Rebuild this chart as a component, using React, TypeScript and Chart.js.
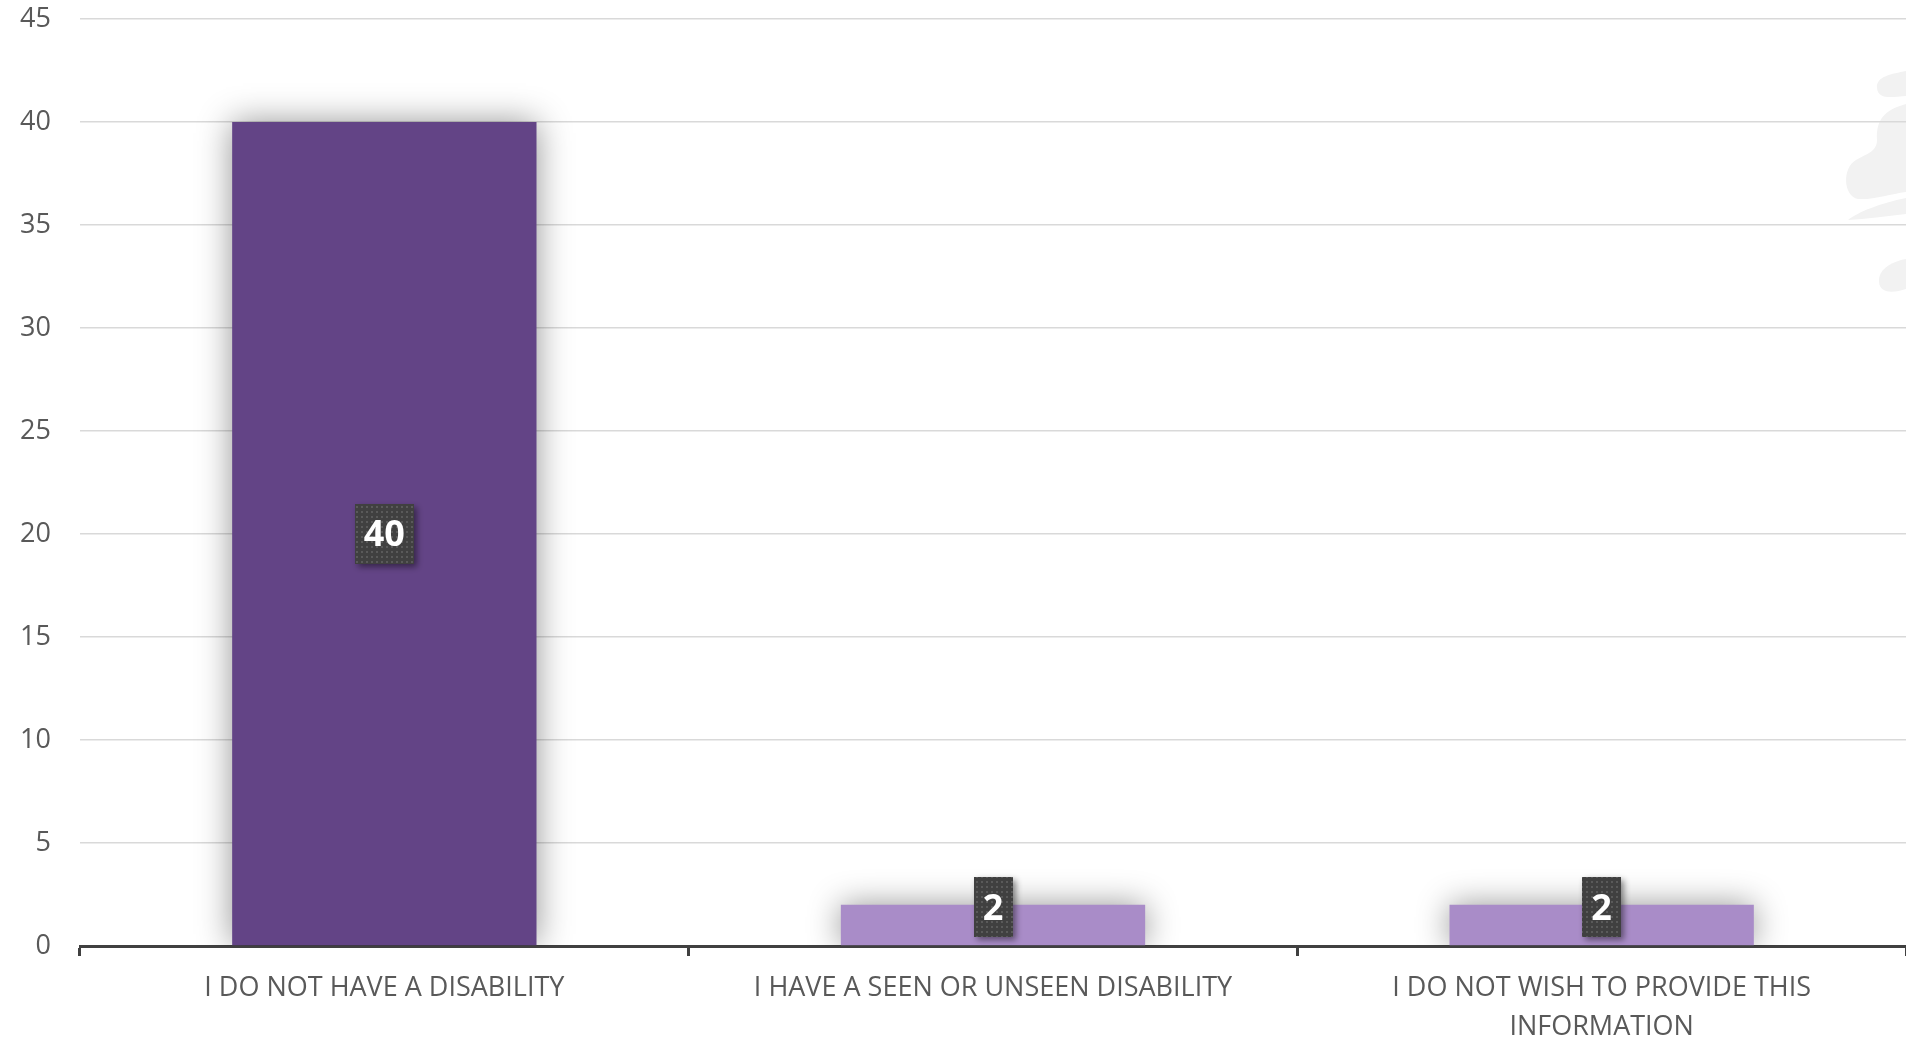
import React, { useEffect, useRef } from 'react';
import { Chart, registerables } from 'chart.js';

Chart.register(...registerables);

const categories: string[][] = [
  ['I DO NOT HAVE A DISABILITY'],
  ['I HAVE A SEEN OR UNSEEN DISABILITY'],
  ['I DO NOT WISH TO PROVIDE THIS', 'INFORMATION'],
];
const values: number[] = [40, 2, 2];
const barColors: string[] = ['#634486', '#A98CC8', '#A98CC8'];
const yMin = 0;
const yMax = 45;
const yStep = 5;

const FONT = '"Open Sans", "Noto Sans", sans-serif';

function makePattern(ctx: CanvasRenderingContext2D) {
  const c = document.createElement('canvas');
  c.width = 5;
  c.height = 5;
  const p = c.getContext('2d')!;
  p.fillStyle = '#404040';
  p.fillRect(0, 0, 5, 5);
  p.fillStyle = '#5a5a5a';
  p.fillRect(1, 1, 2, 2);
  return ctx.createPattern(c, 'repeat')!;
}

const watermarkPlugin = {
  id: 'watermark',
  beforeDraw(chart: any) {
    const ctx: CanvasRenderingContext2D = chart.ctx;
    const W = chart.width;
    ctx.save();
    ctx.fillStyle = '#f2f2f2';
    ctx.beginPath();
    ctx.moveTo(W, 71);
    ctx.bezierCurveTo(W - 14, 74, W - 30, 76, W - 29, 88);
    ctx.bezierCurveTo(W - 28, 100, W - 14, 97, W, 96);
    ctx.closePath();
    ctx.fill();
    ctx.beginPath();
    ctx.moveTo(W, 104);
    ctx.bezierCurveTo(W - 22, 110, W - 30, 120, W - 29, 140);
    ctx.bezierCurveTo(W - 29, 152, W - 40, 154, W - 50, 160);
    ctx.bezierCurveTo(W - 64, 168, W - 63, 196, W - 48, 199);
    ctx.bezierCurveTo(W - 32, 200, W - 16, 194, W, 192);
    ctx.closePath();
    ctx.fill();
    ctx.beginPath();
    ctx.moveTo(W, 198);
    ctx.bezierCurveTo(W - 25, 203, W - 48, 212, W - 58, 220);
    ctx.bezierCurveTo(W - 40, 219, W - 20, 216, W, 214);
    ctx.closePath();
    ctx.fill();
    ctx.beginPath();
    ctx.moveTo(W, 259);
    ctx.bezierCurveTo(W - 16, 262, W - 28, 270, W - 27, 282);
    ctx.bezierCurveTo(W - 26, 294, W - 12, 293, W, 289);
    ctx.closePath();
    ctx.fill();
    ctx.restore();
  },
};

const barShadowPlugin = {
  id: 'barShadow',
  beforeDatasetsDraw(chart: any) {
    const ctx: CanvasRenderingContext2D = chart.ctx;
    ctx.save();
    ctx.shadowColor = 'rgba(0,0,0,0.42)';
    ctx.shadowBlur = 32;
    ctx.shadowOffsetX = 0;
    ctx.shadowOffsetY = 0;
  },
  afterDatasetsDraw(chart: any) {
    chart.ctx.restore();
  },
};

const boxLabelPlugin = {
  id: 'boxLabels',
  afterDraw(chart: any) {
    const ctx: CanvasRenderingContext2D = chart.ctx;
    const meta = chart.getDatasetMeta(0);
    const pattern = makePattern(ctx);
    meta.data.forEach((bar: any, i: number) => {
      const { x, y, base } = bar.getProps(['x', 'y', 'base'], true);
      const text = String(values[i]);
      ctx.save();
      ctx.font = `bold 36px ${FONT}`;
      const tw = ctx.measureText(text).width;
      const w = tw + 18;
      const h = 60;
      const cy = Math.min((y + base) / 2, base - 8 - h / 2);
      ctx.shadowColor = 'rgba(0,0,0,0.45)';
      ctx.shadowBlur = 6;
      ctx.shadowOffsetX = 3;
      ctx.shadowOffsetY = 3;
      ctx.fillStyle = pattern;
      ctx.fillRect(Math.round(x - w / 2), Math.round(cy - h / 2), Math.round(w), h);
      ctx.shadowColor = 'transparent';
      ctx.shadowBlur = 0;
      ctx.shadowOffsetX = 0;
      ctx.shadowOffsetY = 0;
      ctx.fillStyle = '#ffffff';
      ctx.textAlign = 'center';
      ctx.textBaseline = 'middle';
      ctx.fillText(text, x, cy + 2);
      ctx.restore();
    });
  },
};

export default function App() {
  const ref = useRef<HTMLCanvasElement | null>(null);

  useEffect(() => {
    document.body.style.margin = '0';
    document.body.style.background = '#ffffff';
    const canvas = ref.current!;
    const chart = new Chart(canvas, {
      type: 'bar',
      data: {
        labels: categories,
        datasets: [
          {
            data: values,
            backgroundColor: barColors,
            borderWidth: 0,
            categoryPercentage: 1,
            barPercentage: 0.5,
          },
        ],
      },
      options: {
        responsive: false,
        animation: false,
        devicePixelRatio: 1,
        layout: { padding: { top: 19, right: 0, left: 0, bottom: 0 } },
        plugins: {
          legend: { display: false },
          tooltip: { enabled: false },
        },
        scales: {
          x: {
            z: 1,
            offset: true,
            grid: {
              display: true,
              drawOnChartArea: false,
              drawTicks: true,
              tickLength: 10,
              color: '#404040',
              lineWidth: 3,
              offset: true,
            },
            border: { display: true, color: '#404040', width: 3 },
            ticks: {
              color: '#595959',
              font: { family: FONT, size: 27, lineHeight: 1.45 },
              padding: 13,
              maxRotation: 0,
              autoSkip: false,
            },
            afterFit(scale: any) {
              scale.height = 94;
              scale.paddingLeft = 0;
              scale.paddingRight = 0;
            },
          },
          y: {
            min: yMin,
            max: yMax,
            grid: {
              color: '#d9d9d9',
              lineWidth: 1.5,
              drawTicks: false,
            },
            border: { display: false },
            ticks: {
              stepSize: yStep,
              color: '#595959',
              font: { family: FONT, size: 27 },
              padding: 29,
            },
            afterFit(scale: any) {
              scale.width = 80;
              scale.paddingTop = 0;
              scale.paddingBottom = 0;
            },
          },
        },
      },
      plugins: [watermarkPlugin, barShadowPlugin, boxLabelPlugin],
    });
    return () => chart.destroy();
  }, []);

  return (
    <div style={{ width: 1906, height: 1040 }}>
      <canvas ref={ref} width={1906} height={1040} style={{ display: 'block' }} />
    </div>
  );
}
